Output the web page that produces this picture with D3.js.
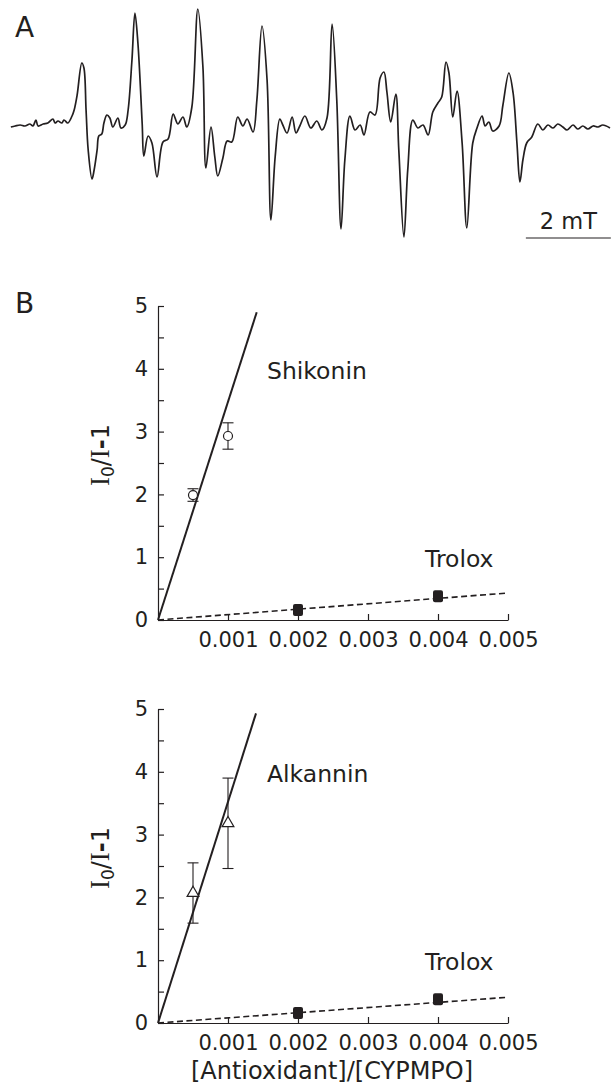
<!DOCTYPE html>
<html>
<head>
<meta charset="utf-8">
<script src="https://cdn.jsdelivr.net/npm/d3@7"></script>
<style>
  body { margin: 0; background: #fff; }
  svg { display: block; }
  text { font-family: "DejaVu Sans", Verdana, sans-serif; fill: #231f20; }
</style>
</head>
<body>
<svg id="fig" width="611" height="1085"></svg>
<script>
// Panel A: ESR spectrum, field in mT from left edge of sweep, intensity in a.u.
const esrField = [0.02, 0.12, 0.24, 0.35, 0.47, 0.54, 0.61, 0.66, 0.78, 0.89, 1.01, 1.06, 1.13, 1.22, 1.27, 1.36,
  1.46, 1.51, 1.58, 1.69, 1.74, 1.79, 1.84, 1.93, 1.98, 2.05, 2.09, 2.16, 2.21, 2.28, 2.35, 2.42, 2.54, 2.61,
  2.71, 2.78, 2.87, 2.94, 3.01, 3.11, 3.15, 3.25, 3.34, 3.46, 3.60, 3.72, 3.84, 3.95, 4.07, 4.16, 4.28, 4.42,
  4.54, 4.61, 4.73, 4.82, 4.89, 5.01, 5.11, 5.22, 5.36, 5.48, 5.58, 5.72, 5.81, 5.93, 6.05, 6.14, 6.24, 6.35,
  6.42, 6.52, 6.64, 6.73, 6.82, 6.94, 7.08, 7.22, 7.34, 7.46, 7.58, 7.69, 7.79, 7.88, 8.00, 8.12, 8.24, 8.33,
  8.47, 8.59, 8.71, 8.80, 8.87, 8.96, 9.08, 9.15, 9.27, 9.36, 9.48, 9.60, 9.72, 9.84, 9.95, 10.07, 10.16, 10.26,
  10.33, 10.42, 10.52, 10.64, 10.75, 10.89, 10.99, 11.11, 11.18, 11.27, 11.36, 11.51, 11.60, 11.74, 11.84,
  11.93, 12.00, 12.07, 12.16, 12.28, 12.42, 12.54, 12.66, 12.78, 12.89, 13.01, 13.11, 13.25, 13.36, 13.48,
  13.60, 13.72, 13.84, 13.95, 14.12];
const esrIntensity = [0, 1, 2, 1, 3, 1, 7, 1, 3, 4, 8, 4, 6, 4, 7, 4,
  11, 17, 32, 64, 59, 17, -23, -52, -43, -23, -9, -7, 4, 12, 9, 0, 9, -1,
  2, 17, 67, 114, 84, 4, -29, -9, -16, -50, -15, -12, 13, 3, 10, 0, 20, 118,
  60, -41, 0, -30, -49, -31, -14, -15, 10, 1, 8, -5, 27, 101, 47, -93, -30, 8,
  2, -6, 10, -6, 1, 11, -1, 6, -3, 9, 103, 27, -102, -33, 11, -3, 2, -8,
  15, 12, 49, 55, 35, 5, 33, -23, -110, -43, 7, -1, 2, -8, 15, 24, 30, 65,
  54, 10, 36, -16, -101, -16, -1, 11, 1, 5, -4, 1, 22, 54, 34,
  -16, -55, -33, -16, -10, 3, -3, 2, -1, 3, 0, -3, 2, -2, 1,
  -2, 1, 0, 2, -1];
const scaleBarMT = 2;
const scaleBarLabel = "2 mT";

// Panel B: I0/I-1 vs [Antioxidant]/[CYPMPO]
const ratioTicks = [0.001, 0.002, 0.003, 0.004, 0.005];
const yTicks = [0, 0.5, 1, 1.5, 2, 2.5, 3, 3.5, 4, 4.5, 5];

const shikoninX = [0.0005, 0.001];
const shikoninY = [1.99, 2.93];
const shikoninErr = [0.1, 0.21];
const shikoninFitX = [0, 0.00141];
const shikoninFitY = [0, 4.9];

const alkanninX = [0.0005, 0.001];
const alkanninY = [2.07, 3.18];
const alkanninErr = [0.48, 0.72];
const alkanninFitX = [0, 0.0014];
const alkanninFitY = [0, 4.93];

const troloxX = [0.002, 0.004];
const troloxY1 = [0.16, 0.38];
const troloxErr1 = [0.05, 0.05];
const troloxFitY1 = [0, 0.43];
const troloxY2 = [0.16, 0.38];
const troloxErr2 = [0.06, 0.05];
const troloxFitY2 = [0, 0.41];
const troloxFitX = [0, 0.005];

const ink = "#231f20";
const svg = d3.select("#fig");

// ---- panel A ----
const xE = d3.scaleLinear().domain([0, 14.12]).range([10, 610]);
const yE = d3.scaleLinear().domain([-110, 118]).range([237, 9]);

svg.append("text").attr("x", 15).attr("y", 37).attr("font-size", 28).text("A");

svg.append("path")
    .datum(d3.zip(esrField, esrIntensity))
    .attr("fill", "none")
    .attr("stroke", ink)
    .attr("stroke-width", 1.7)
    .attr("stroke-linejoin", "round")
    .attr("d", d3.line().x(d => xE(d[0])).y(d => yE(d[1])).curve(d3.curveCatmullRom.alpha(0.5)));

// scale bar
const barEnd = 14.14;
svg.append("line")
    .attr("x1", xE(barEnd - scaleBarMT)).attr("x2", xE(barEnd))
    .attr("y1", 238).attr("y2", 238)
    .attr("stroke", ink).attr("stroke-width", 1.2);
svg.append("text")
    .attr("x", (xE(barEnd - scaleBarMT) + xE(barEnd)) / 2).attr("y", 229)
    .attr("text-anchor", "middle").attr("font-size", 22.5)
    .text(scaleBarLabel);

svg.append("text").attr("x", 15).attr("y", 313).attr("font-size", 28).text("B");

// ---- panel B ----
const x = d3.scaleLinear().domain([0, 0.005]).range([158, 508]);

function drawPanel(y0, cfg) {
    const y = d3.scaleLinear().domain([0, 5]).range([y0, y0 - 314]);
    const g = svg.append("g");

    g.append("g")
        .attr("transform", `translate(0,${y0})`)
        .attr("color", ink)
        .call(d3.axisBottom(x).tickValues(ratioTicks).tickSizeInner(-6).tickSizeOuter(0)
            .tickPadding(12).tickFormat(d3.format(".3f")))
        .call(a => a.attr("font-size", 21).attr("font-family", null))
        .call(a => a.selectAll("path,line").attr("stroke-width", 1.2));

    g.append("g")
        .attr("transform", `translate(${x(0)},0)`)
        .attr("color", ink)
        .call(d3.axisLeft(y).tickValues(yTicks).tickSizeInner(-6).tickSizeOuter(0)
            .tickPadding(10).tickFormat(d => Number.isInteger(d) ? d : ""))
        .call(a => a.attr("font-size", 21).attr("font-family", null))
        .call(a => a.selectAll("path,line").attr("stroke-width", 1.2));

    // y label
    const yl = g.append("text")
        .attr("transform", `translate(109,${y0 - 165}) rotate(-90)`)
        .attr("text-anchor", "middle")
        .attr("font-size", 24);
    yl.append("tspan").attr("font-family", "Liberation Serif").attr("font-size", 27).text("I");
    yl.append("tspan").attr("font-size", 17).attr("dy", 5).text("0");
    yl.append("tspan").attr("dy", -5).text("/");
    yl.append("tspan").attr("font-family", "Liberation Serif").attr("font-size", 27).text("I");
    yl.append("tspan").attr("font-weight", "bold").text("-");
    yl.append("tspan").text("1");

    const line = d3.line().x(d => x(d[0])).y(d => y(d[1]));

    // fit lines
    g.append("path").datum(d3.zip(cfg.fitX, cfg.fitY))
        .attr("fill", "none").attr("stroke", ink).attr("stroke-width", 2)
        .attr("d", line);
    g.append("path").datum(d3.zip(troloxFitX, cfg.tFitY))
        .attr("fill", "none").attr("stroke", ink).attr("stroke-width", 1.6)
        .attr("stroke-dasharray", "6,3.5")
        .attr("d", line);

    // error bars
    function errBars(xs, ys, es, cap) {
        xs.forEach((xv, i) => {
            const cx = x(xv), hi = y(ys[i] + es[i]), lo = y(ys[i] - es[i]);
            g.append("line").attr("x1", cx).attr("x2", cx).attr("y1", hi).attr("y2", lo)
                .attr("stroke", ink).attr("stroke-width", 1.1);
            [hi, lo].forEach(yy => g.append("line")
                .attr("x1", cx - cap).attr("x2", cx + cap).attr("y1", yy).attr("y2", yy)
                .attr("stroke", ink).attr("stroke-width", 1.1));
        });
    }
    errBars(cfg.px, cfg.py, cfg.pe, 5.5);
    errBars(troloxX, cfg.ty, cfg.te, 4);

    // markers
    if (cfg.marker === "circle") {
        g.selectAll(null).data(d3.zip(cfg.px, cfg.py)).join("circle")
            .attr("cx", d => x(d[0])).attr("cy", d => y(d[1])).attr("r", 4.5)
            .attr("fill", "#fff").attr("stroke", ink).attr("stroke-width", 1.2);
    } else {
        g.selectAll(null).data(d3.zip(cfg.px, cfg.py)).join("path")
            .attr("transform", d => `translate(${x(d[0])},${y(d[1])})`)
            .attr("d", d3.symbol(d3.symbolTriangle, 60))
            .attr("fill", "#fff").attr("stroke", ink).attr("stroke-width", 1.2);
    }
    g.selectAll(null).data(d3.zip(troloxX, cfg.ty)).join("rect")
        .attr("x", d => x(d[0]) - 5).attr("y", d => y(d[1]) - 6)
        .attr("width", 10).attr("height", 12).attr("rx", 2)
        .attr("fill", ink);

    // series labels
    g.append("text").attr("x", 267).attr("y", y0 - 241).attr("font-size", 23.5).text(cfg.name);
    g.append("text").attr("x", 425).attr("y", y0 - 53).attr("font-size", 23.5).text("Trolox");
}

drawPanel(620, {
    name: "Shikonin", marker: "circle",
    px: shikoninX, py: shikoninY, pe: shikoninErr,
    fitX: shikoninFitX, fitY: shikoninFitY,
    ty: troloxY1, te: troloxErr1, tFitY: troloxFitY1
});
drawPanel(1023, {
    name: "Alkannin", marker: "triangle",
    px: alkanninX, py: alkanninY, pe: alkanninErr,
    fitX: alkanninFitX, fitY: alkanninFitY,
    ty: troloxY2, te: troloxErr2, tFitY: troloxFitY2
});

svg.append("text")
    .attr("x", 332).attr("y", 1079)
    .attr("text-anchor", "middle").attr("font-size", 24)
    .text("[Antioxidant]/[CYPMPO]");
</script>
</body>
</html>
